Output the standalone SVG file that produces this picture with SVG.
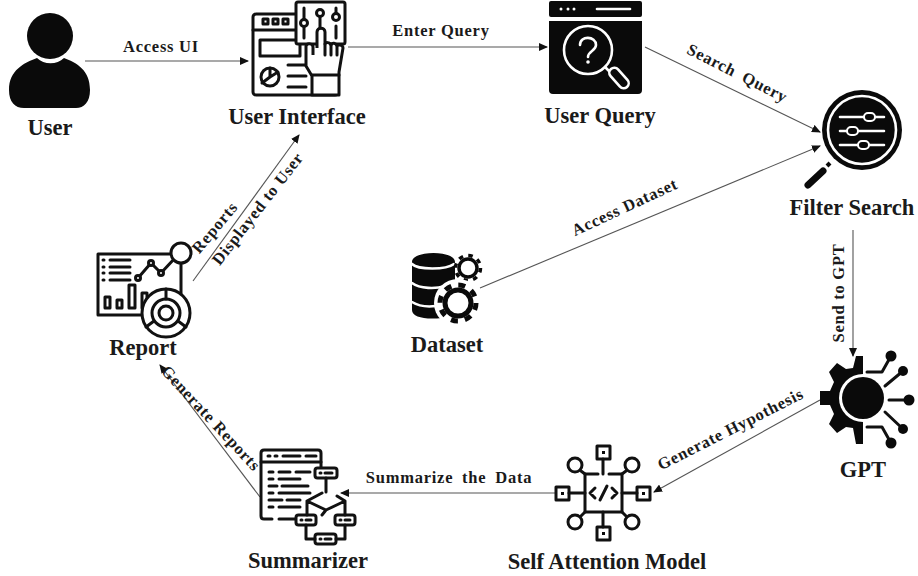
<svg xmlns="http://www.w3.org/2000/svg" width="918" height="576" viewBox="0 0 918 576">
<defs>
<marker id="arrow" markerWidth="9" markerHeight="8" refX="8" refY="4" orient="auto" markerUnits="userSpaceOnUse"><path d="M0 0 L9 4 L0 8 Z" fill="#111"/></marker>
</defs>
<style>
text{font-family:"Liberation Serif","Times New Roman",serif;font-weight:bold;fill:#1a1a1a;text-anchor:middle}
.n{font-size:22.5px}
.e{font-size:16.5px;letter-spacing:.75px}
.wide{word-spacing:4px}
.c{fill:none;stroke:#555;stroke-width:1.1;marker-end:url(#arrow)}
.o{fill:none;stroke:#111;stroke-width:3;stroke-linecap:round;stroke-linejoin:round}
.ow{fill:#fff;stroke:#111;stroke-width:3;stroke-linejoin:round}
.w{fill:none;stroke:#fff;stroke-width:2.6;stroke-linecap:round}
.k{fill:#0a0a0a}
</style>
<rect width="918" height="576" fill="#fff"/>
<g id="connectors">
<path class="c" d="M85 61H248"/>
<path class="c" d="M348 47H547"/>
<path class="c" d="M645 47L820 132"/>
<path class="c" d="M480 288L820 146"/>
<path class="c" d="M853 230V356"/>
<path class="c" d="M820 400L654 492"/>
<path class="c" d="M555 493H341"/>
<path class="c" d="M260 497L160 365"/>
<path class="c" d="M193 281L299 135"/>
<text class="e" x="161" y="52">Access UI</text>
<text class="e" x="441" y="36">Enter Query</text>
<text class="e wide" transform="translate(735 78) rotate(27)">Search Query</text>
<text class="e" transform="translate(627 212) rotate(-25)">Access Dataset</text>
<text class="e" transform="translate(219 231) rotate(-50)">Reports</text>
<text class="e" transform="translate(262 212) rotate(-52)">Displayed to User</text>
<text class="e" transform="translate(844 293) rotate(-90)">Send to GPT</text>
<text class="e" transform="translate(733 434) rotate(-27)">Generate Hypothesis</text>
<text class="e wide" x="449" y="483">Summarize the Data</text>
<text class="e" transform="translate(207 422) rotate(47)">Generate Reports</text>
</g>
<g id="user">
<circle class="k" cx="50" cy="36" r="23"/>
<path class="k" d="M9 90C9 70 24 63 37 58C44 65 57 65 64 58C77 63 90 70 90 90C90 102 84 108 76 108H24C15 108 9 102 9 90Z"/>
<text class="n" x="50" y="135">User</text>
</g>
<g id="user-interface">
<rect class="o" x="253" y="14" width="85" height="81" rx="3"/>
<path class="o" d="M253 30H296"/>
<path class="o" d="M263 19h5v5h-5zM273 19h5v5h-5zM283 19h5v5h-5z"/>
<rect class="o" x="260" y="40" width="40" height="16"/>
<circle class="o" cx="270" cy="77" r="9"/>
<path class="o" d="M270 68V77L278 72M270 77L262 83"/>
<path class="o" d="M288 65H306M288 76H306M288 87H306"/>
<rect class="ow" x="296" y="2" width="49" height="42" rx="2"/>
<path class="o" d="M304 8V38M320 14V30M336 8V16M336 26V38"/>
<circle class="ow" cx="304" cy="23" r="3.5"/><circle class="ow" cx="320" cy="13" r="3.5"/><circle class="ow" cx="336" cy="17" r="3.5"/>
<path class="ow" d="M317 48V32C317 27 325 27 325 32V44C325 42 330 42 331 45C332 42 336 43 337 46C338 44 343 45 343 48L339 72V95H312V76L306 66V46C307 43 313 43 313 47V55"/>
<path class="o" d="M325 44V55M331 45V55M337 47V55M312 75H339"/>
<text class="n" x="297" y="124">User Interface</text>
</g>
<g id="user-query">
<rect class="k" x="549" y="1" width="93" height="16" rx="2"/>
<path class="k" d="M549 21H642V90Q642 94 638 94H553Q549 94 549 90Z"/>
<g fill="#fff"><circle cx="561" cy="9" r="1.5"/><circle cx="568" cy="9" r="1.5"/><circle cx="574" cy="9" r="1.5"/></g>
<path class="w" d="M597 9H630"/>
<circle class="w" cx="588" cy="50" r="24"/>
<path class="w" d="M580 45C580 35 596 36 596 45C596 51 588 51 588 57"/>
<circle cx="588" cy="62" r="1.8" fill="#fff"/>
<path class="w" d="M605 67L609 71"/>
<rect class="w" x="-5" y="-12" width="10" height="24" rx="5" transform="translate(619 78) rotate(-42)"/>
<text class="n" x="600" y="123">User Query</text>
</g>
<g id="filter-search">
<circle class="k" cx="862" cy="130" r="40"/>
<circle class="w" cx="862" cy="130" r="34"/>
<path class="w" d="M840 117H884M840 131H884M840 145H884" stroke-width="2"/>
<rect x="864" y="113" width="11" height="8" rx="4" fill="#0a0a0a" stroke="#fff" stroke-width="2"/>
<rect x="847" y="127" width="11" height="8" rx="4" fill="#0a0a0a" stroke="#fff" stroke-width="2"/>
<rect x="858" y="141" width="11" height="8" rx="4" fill="#0a0a0a" stroke="#fff" stroke-width="2"/>
<path d="M827 166L830 163" stroke="#0a0a0a" stroke-width="4"/>
<path d="M823 171L808 185" stroke="#0a0a0a" stroke-width="7" stroke-linecap="round"/>
<text class="n" x="852" y="215">Filter Search</text>
</g>
<g id="dataset">
<path class="k" d="M412 262C412 250 455 250 455 262V280L440 300L442 318C425 320 412 317 412 310Z"/>
<path class="w" d="M412 264C418 270 446 270 454 264M412 283C420 289 436 289 445 286M412 302C420 307 428 307 436 306"/>
<circle cx="468" cy="268" r="9" fill="none" stroke="#0a0a0a" stroke-width="3.5"/>
<circle cx="468" cy="268" r="12.5" fill="none" stroke="#0a0a0a" stroke-width="3.5" stroke-dasharray="4.5 5.3"/>
<circle cx="458" cy="303" r="24" fill="#fff"/>
<circle cx="458" cy="303" r="13" fill="none" stroke="#0a0a0a" stroke-width="5"/>
<circle cx="458" cy="303" r="18" fill="none" stroke="#0a0a0a" stroke-width="5" stroke-dasharray="7 7.1"/>
<text class="n" x="447" y="352">Dataset</text>
</g>
<g id="report">
<rect class="o" x="98" y="254" width="83" height="61"/>
<path class="o" d="M110 260H130M110 267H130M110 273H130M110 280H130M103 260H104M103 267H104M103 273H104M103 280H104"/>
<path class="o" d="M138 278L151 263L161 273L175 258"/>
<circle class="ow" cx="138" cy="278" r="2.5"/><circle class="ow" cx="151" cy="263" r="2.5"/><circle class="ow" cx="161" cy="273" r="2.5"/>
<circle class="ow" cx="181" cy="253" r="10"/>
<path class="o" d="M105 297h5v11h-5zM117 300h5v8h-5zM129 285h6v23h-6zM142 293h5v15h-5z"/>
<circle class="ow" cx="166" cy="313" r="24"/>
<circle class="o" cx="166" cy="313" r="14"/><circle class="o" cx="166" cy="313" r="7"/>
<path class="o" d="M166 289V299M146 327L154 321M186 327L178 321"/>
<text class="n" x="143" y="355">Report</text>
</g>
<g id="gpt">
<path class="k" d="M863 356H856L853 368L846 369L837 363L829 372L834 382L830 391L820 391V405L830 405L834 414L829 424L837 433L846 427L853 428L856 444H863Z"/>
<circle cx="863" cy="398" r="24" fill="#fff"/>
<circle class="k" cx="863" cy="398" r="21"/>
<path class="o" d="M867 372H882L891 356M885 386L903 371M889 400H909M885 412L903 429M867 427H882L891 443" stroke-width="2.4"/>
<g class="k"><circle cx="891" cy="356" r="5.5"/><circle cx="903" cy="371" r="5"/><circle cx="909" cy="400" r="5.5"/><circle cx="903" cy="429" r="5"/><circle cx="891" cy="443" r="5.5"/></g>
<text class="n" x="863" y="477">GPT</text>
</g>
<g id="self-attention-model">
<path class="o" d="M598 474H585V512H622V474H609"/>
<path class="o" d="M603 459V474M569 493H585M622 493H637M603 512V527M581 471L585 474M626 471L622 474M581 516L585 512M626 516L622 512"/>
<rect class="o" x="597" y="446" width="13" height="13"/><rect class="o" x="556" y="487" width="13" height="13"/><rect class="o" x="637" y="487" width="13" height="13"/><rect class="o" x="597" y="527" width="13" height="13"/>
<path class="k" d="M602 451h3v3h-3zM561 492h3v3h-3zM642 492h3v3h-3zM602 532h3v3h-3z"/>
<circle class="o" cx="575" cy="465" r="7"/><circle class="o" cx="632" cy="465" r="7"/><circle class="o" cx="575" cy="522" r="7"/><circle class="o" cx="632" cy="522" r="7"/>
<path class="o" d="M595 488L590 493L595 498M612 488L617 493L612 498M607 486L600 500"/>
<text class="n" x="607" y="569">Self Attention Model</text>
</g>
<g id="summarizer">
<path class="o" d="M321 468V453Q321 450 318 450H264Q261 450 261 453V516Q261 519 264 519H272M279 519H295"/>
<path class="o" d="M261 462H321"/>
<path class="o" d="M268 456H270M275 456H277M283 456H300M306 456H316"/>
<path class="o" d="M269 472H273M279 472H290M296 472H310M269 479H273M279 479H300M269 486H277M282 486H308M269 493H273M279 493H310M269 500H282M287 500H300M269 507H273M279 507H300"/>
<rect class="ow" x="315" y="468" width="22" height="10" rx="2.5"/>
<rect class="ow" x="296" y="515" width="20" height="10" rx="2.5"/>
<rect class="ow" x="335" y="515" width="20" height="10" rx="2.5"/>
<rect class="ow" x="315" y="534" width="21" height="10" rx="2.5"/>
<path class="o" d="M326 478V492M322 493L307 501L326 510L345 501L337 496M307 501V515M345 501V515M306 525V539H315M345 525V539H336M326 510L322 515"/>
<path class="o" d="M320 473H321M325 473H332M301 520H302M306 520H311M340 520H341M345 520H350M320 539H321M325 539H331" stroke-width="1.8"/>
<text class="n" x="308" y="568">Summarizer</text>
</g>
</svg>
